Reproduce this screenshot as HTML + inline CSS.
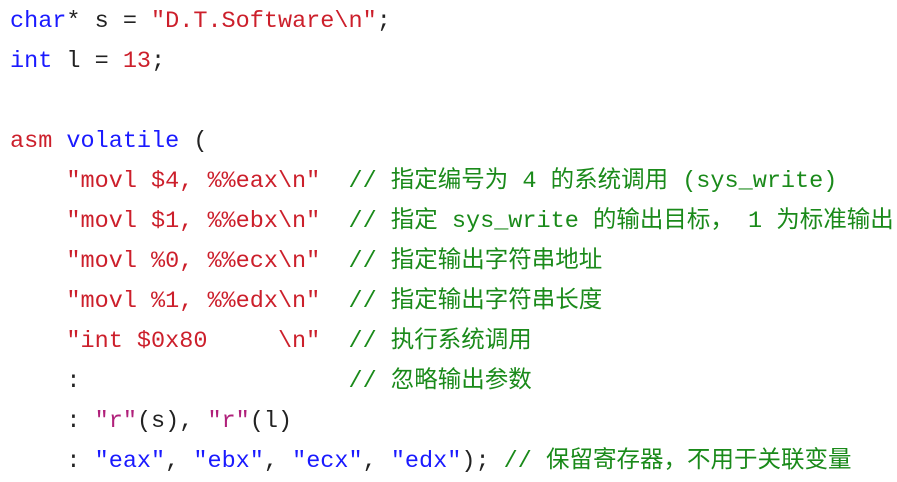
<!DOCTYPE html>
<html><head><meta charset="utf-8"><style>
html,body{margin:0;padding:0;background:#fff;width:897px;height:481px;overflow:hidden}
.l{position:absolute;left:10px;white-space:pre;font-family:"Liberation Mono","Noto Sans CJK SC",monospace;font-size:23.5px;line-height:40px;color:#222;margin-top:2px}
.k{color:#1a1aff}.s{color:#cc1f2b}.c{color:#1a8a1a}.p{color:#b0207a}
</style></head><body>
<div class="l" style="top:0"><span class="k">char</span>* s = <span class="s">"D.T.Software\n"</span>;</div>
<div class="l" style="top:40px"><span class="k">int</span> l = <span class="s">13</span>;</div>
<div class="l" style="top:120px"><span class="s">asm</span> <span class="k">volatile</span> (</div>
<div class="l" style="top:160px">    <span class="s">"movl $4, %%eax\n"</span>  <span class="c">// 指定编号为 4 的系统调用 (sys_write)</span></div>
<div class="l" style="top:200px">    <span class="s">"movl $1, %%ebx\n"</span>  <span class="c">// 指定 sys_write 的输出目标， 1 为标准输出</span></div>
<div class="l" style="top:240px">    <span class="s">"movl %0, %%ecx\n"</span>  <span class="c">// 指定输出字符串地址</span></div>
<div class="l" style="top:280px">    <span class="s">"movl %1, %%edx\n"</span>  <span class="c">// 指定输出字符串长度</span></div>
<div class="l" style="top:320px">    <span class="s">"int $0x80     \n"</span>  <span class="c">// 执行系统调用</span></div>
<div class="l" style="top:360px">    :                   <span class="c">// 忽略输出参数</span></div>
<div class="l" style="top:400px">    : <span class="p">"r"</span>(s), <span class="p">"r"</span>(l)</div>
<div class="l" style="top:440px">    : <span class="k">"eax"</span>, <span class="k">"ebx"</span>, <span class="k">"ecx"</span>, <span class="k">"edx"</span>); <span class="c">// 保留寄存器，不用于关联变量</span></div>
</body></html>
